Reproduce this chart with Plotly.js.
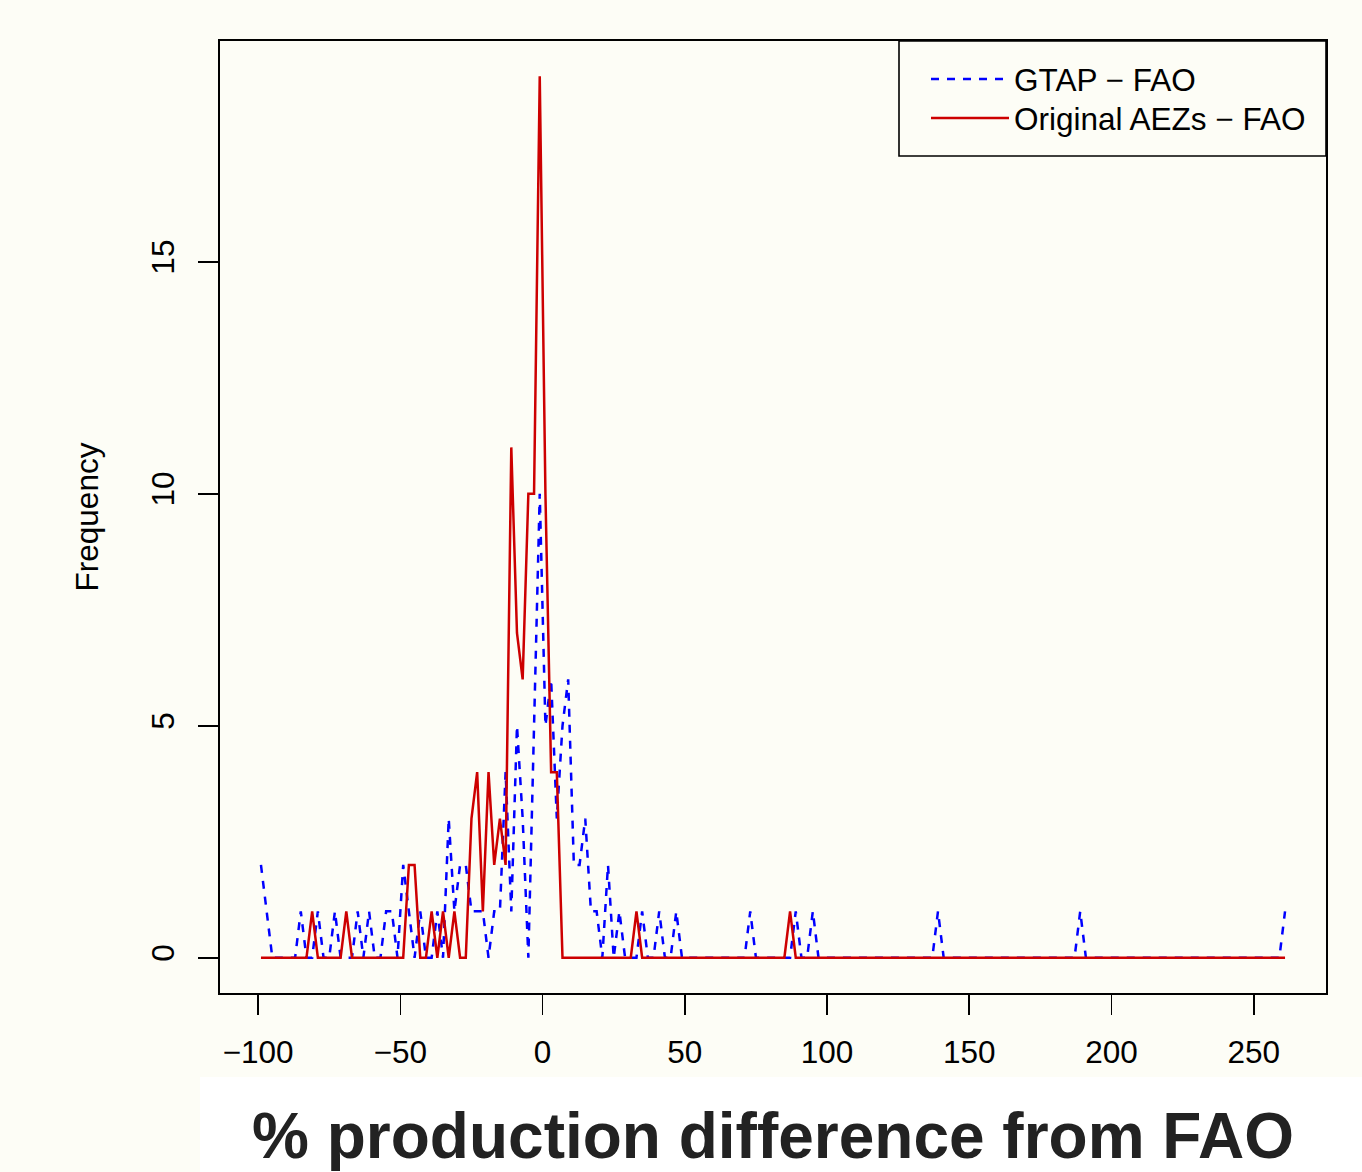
<!DOCTYPE html>
<html>
<head>
<meta charset="utf-8">
<script src="https://cdn.plot.ly/plotly-3.0.1.min.js"></script>
<style>
html, body { margin: 0; padding: 0; background: #fdfdf6; }
#chart { width: 1362px; height: 1172px; }
</style>
</head>
<body>
<div id="chart"></div>
<script>
// Bin mid-points (% production difference from FAO)
const mids = [
  -99, -97, -95, -93, -91, -89, -87, -85, -83, -81,
  -79, -77, -75, -73, -71, -69, -67, -65, -63, -61,
  -59, -57, -55, -53, -51, -49, -47, -45, -43, -41,
  -39, -37, -35, -33, -31, -29, -27, -25, -23, -21,
  -19, -17, -15, -13, -11,  -9,  -7,  -5,  -3,  -1,
    1,   3,   5,   7,   9,  11,  13,  15,  17,  19,
   21,  23,  25,  27,  29,  31,  33,  35,  37,  39,
   41,  43,  45,  47,  49,  51,  53,  55,  57,  59,
   61,  63,  65,  67,  69,  71,  73,  75,  77,  79,
   81,  83,  85,  87,  89,  91,  93,  95,  97,  99,
  101, 103, 105, 107, 109, 111, 113, 115, 117, 119,
  121, 123, 125, 127, 129, 131, 133, 135, 137, 139,
  141, 143, 145, 147, 149, 151, 153, 155, 157, 159,
  161, 163, 165, 167, 169, 171, 173, 175, 177, 179,
  181, 183, 185, 187, 189, 191, 193, 195, 197, 199,
  201, 203, 205, 207, 209, 211, 213, 215, 217, 219,
  221, 223, 225, 227, 229, 231, 233, 235, 237, 239,
  241, 243, 245, 247, 249, 251, 253, 255, 257, 259,
  261
];

// Frequency: GTAP - FAO
const gtapFao = [
  2, 1, 0, 0, 0, 0, 0, 1, 0, 0,
  1, 0, 0, 1, 0, 0, 0, 1, 0, 1,
  0, 0, 1, 1, 0, 2, 1, 0, 1, 0,
  0, 1, 0, 3, 1, 2, 2, 1, 1, 1,
  0, 1, 1, 4, 1, 5, 3, 0, 5, 10,
  5, 6, 3, 5, 6, 2, 2, 3, 1, 1,
  0, 2, 0, 1, 0, 0, 0, 1, 0, 0,
  1, 0, 0, 1, 0, 0, 0, 0, 0, 0,
  0, 0, 0, 0, 0, 0, 1, 0, 0, 0,
  0, 0, 0, 0, 1, 0, 0, 1, 0, 0,
  0, 0, 0, 0, 0, 0, 0, 0, 0, 0,
  0, 0, 0, 0, 0, 0, 0, 0, 0, 1,
  0, 0, 0, 0, 0, 0, 0, 0, 0, 0,
  0, 0, 0, 0, 0, 0, 0, 0, 0, 0,
  0, 0, 0, 0, 1, 0, 0, 0, 0, 0,
  0, 0, 0, 0, 0, 0, 0, 0, 0, 0,
  0, 0, 0, 0, 0, 0, 0, 0, 0, 0,
  0, 0, 0, 0, 0, 0, 0, 0, 0, 0,
  1
];

// Frequency: Original AEZs - FAO
const originalFao = [
  0, 0, 0, 0, 0, 0, 0, 0, 0, 1,
  0, 0, 0, 0, 0, 1, 0, 0, 0, 0,
  0, 0, 0, 0, 0, 0, 2, 2, 0, 0,
  1, 0, 1, 0, 1, 0, 0, 3, 4, 1,
  4, 2, 3, 2, 11, 7, 6, 10, 10, 19,
  10, 4, 4, 0, 0, 0, 0, 0, 0, 0,
  0, 0, 0, 0, 0, 0, 1, 0, 0, 0,
  0, 0, 0, 0, 0, 0, 0, 0, 0, 0,
  0, 0, 0, 0, 0, 0, 0, 0, 0, 0,
  0, 0, 0, 1, 0, 0, 0, 0, 0, 0,
  0, 0, 0, 0, 0, 0, 0, 0, 0, 0,
  0, 0, 0, 0, 0, 0, 0, 0, 0, 0,
  0, 0, 0, 0, 0, 0, 0, 0, 0, 0,
  0, 0, 0, 0, 0, 0, 0, 0, 0, 0,
  0, 0, 0, 0, 0, 0, 0, 0, 0, 0,
  0, 0, 0, 0, 0, 0, 0, 0, 0, 0,
  0, 0, 0, 0, 0, 0, 0, 0, 0, 0,
  0, 0, 0, 0, 0, 0, 0, 0, 0, 0,
  0
];

const seriesNames = ['GTAP \u2212 FAO', 'Original AEZs \u2212 FAO'];
const xTickVals = [-100, -50, 0, 50, 100, 150, 200, 250];
const yTickVals = [0, 5, 10, 15];
const xTitle = '% production difference from FAO';
const yTitle = 'Frequency';

const FONT = '"Liberation Sans", Arial, Helvetica, sans-serif';
const BG = '#fdfdf6';

const traces = [
  {
    type: 'scatter', mode: 'lines', name: seriesNames[0],
    x: mids, y: gtapFao, legend: 'legend',
    line: { color: '#0000ff', width: 2.5, dash: '8px,8px' }
  },
  {
    type: 'scatter', mode: 'lines', name: seriesNames[1],
    x: mids, y: originalFao, legend: 'legend2',
    line: { color: '#cd0000', width: 2.5 }
  }
];

const W = 1362, H = 1172;
const L = 220, R = 36, T = 41, B = 179;
const pw = W - L - R, ph = H - T - B;
const px2x = (px) => (px - L) / pw;
const py2y = (py) => 1 - (py - T) / ph;

const legendCommon = {
  xanchor: 'left', yanchor: 'top',
  bgcolor: 'rgba(0,0,0,0)', borderwidth: 0,
  font: { family: FONT, size: 31.5, color: '#000' },
  itemwidth: 78
};

const layout = {
  width: W, height: H,
  margin: { l: L, r: R, t: T, b: B, pad: 0, autoexpand: false },
  paper_bgcolor: BG,
  plot_bgcolor: BG,
  font: { family: FONT, size: 31.5, color: '#000' },
  showlegend: true,
  hovermode: false,
  legend: Object.assign({}, legendCommon, { x: px2x(926), y: py2y(52) }),
  legend2: Object.assign({}, legendCommon, { x: px2x(926), y: py2y(91) }),
  xaxis: {
    range: [-113.4, 275.4],
    tickmode: 'array', tickvals: xTickVals,
    ticks: 'outside', ticklen: 20, tickwidth: 1.6, tickcolor: '#000',
    showline: true, linecolor: '#000', linewidth: 1.6, mirror: true,
    showgrid: false, zeroline: false,
    ticklabelstandoff: 11,
    tickfont: { family: FONT, size: 31.5, color: '#000' },
    title: { text: '<b>' + xTitle + '</b>', font: { family: FONT, size: 64, color: '#222' }, standoff: 57 }
  },
  yaxis: {
    range: [-0.76, 19.76],
    tickmode: 'array', tickvals: yTickVals,
    tickangle: -90,
    ticks: 'outside', ticklen: 20, tickwidth: 1.6, tickcolor: '#000',
    showline: true, linecolor: '#000', linewidth: 1.6, mirror: true,
    showgrid: false, zeroline: false,
    ticklabelstandoff: 12,
    tickfont: { family: FONT, size: 31.5, color: '#000' },
    title: { text: yTitle, font: { family: FONT, size: 31.5, color: '#000' }, standoff: 37 }
  },
  shapes: [
    {
      type: 'rect', xref: 'paper', yref: 'paper', layer: 'below',
      x0: px2x(200), x1: px2x(W),
      y0: py2y(1077), y1: py2y(H),
      fillcolor: '#ffffff', line: { width: 0 }
    },
    {
      type: 'rect', xref: 'paper', yref: 'paper', layer: 'above',
      x0: px2x(899), x1: 1,
      y0: py2y(156), y1: 1,
      fillcolor: BG, line: { color: '#000', width: 1.6 }
    }
  ]
};

Plotly.newPlot('chart', traces, layout, { staticPlot: true, displayModeBar: false });
</script>
</body>
</html>
